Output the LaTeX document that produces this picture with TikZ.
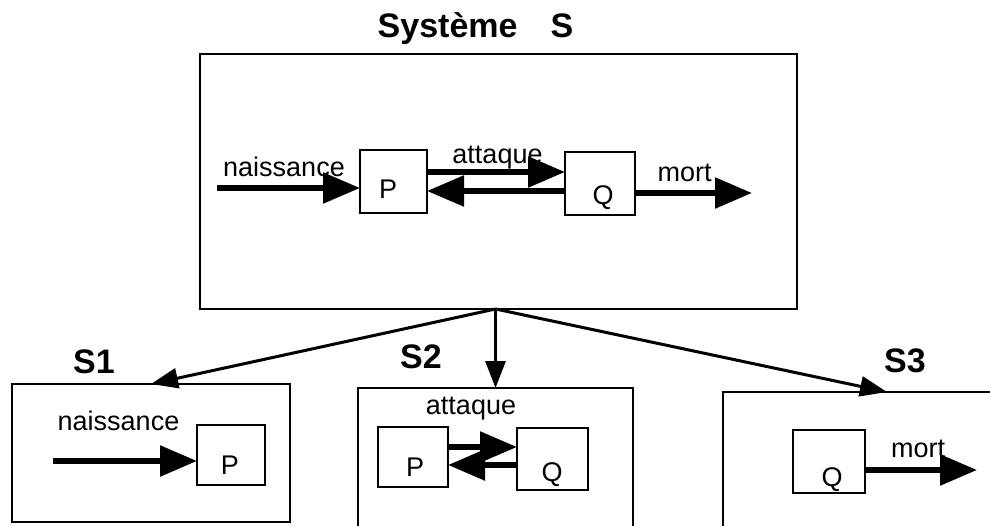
\documentclass[tikz,border=0pt]{standalone}
\usepackage{fontspec}
\setmainfont{Liberation Sans}
\usetikzlibrary{arrows.meta,calc}
\begin{document}
\begin{tikzpicture}[x=1pt,y=-1pt,
  box/.style={draw,line width=2.5pt,rectangle,inner sep=0pt,outer sep=0pt},
  sysbox/.style={box,line width=2.8pt},
  lbl/.style={font=\fontsize{27}{31}\selectfont,inner sep=0pt,anchor=base},
  ttl/.style={font=\fontsize{34}{40}\selectfont\bfseries,inner sep=0pt,anchor=base},
  flow/.style={line width=5.5pt,-{Triangle[length=37pt,width=30pt]}},
  link/.style={line width=3pt,-{Triangle[length=27pt,width=20pt]}},
]
\useasboundingbox (0,0) rectangle (990,526);
\clip (0,0) rectangle (990,526);

% ---- main system ----
\node[sysbox,minimum width=597pt,minimum height=255pt] (S) at (498.5,181.5) {};
\node[ttl] (ttlS) at (475.5,38) {Système\hspace{33pt}S};

\node[box,minimum width=67pt,minimum height=63pt] (P) at (393.5,181.5) {};
\node[lbl] (Plbl) at (388,199) {P};
\node[box,minimum width=70pt,minimum height=63pt] (Q) at (600,183.5) {};
\node[lbl] (Qlbl) at (603,205) {Q};

\node[lbl] (nais) at (284,177) {naissance};
\node[lbl] (att) at (497.5,164) {attaque};
\node[lbl] (mort) at (684.5,182) {mort};

\coordinate (nst) at (217,188);
\draw[flow] (nst) -- (nst -| P.west);
\draw[flow] ([yshift=9.5pt]P.east) -- ([yshift=9.5pt]P.east -| Q.west);
\draw[flow] ([yshift=-7.5pt]Q.west) -- ([yshift=-7.5pt]Q.west -| P.east);
\coordinate (mend) at (752,193);
\draw[flow] (Q.east |- mend) -- (mend);

% ---- subsystems ----
\node[box,minimum width=278pt,minimum height=138pt] (S1) at (151,453) {};
\node[ttl] (ttl1) at (94,373) {S1};
\node[box,minimum width=275pt,minimum height=172pt] (S2) at (495.5,474) {};
\node[ttl] (ttl2) at (421,368) {S2};
\node[box,minimum width=328pt,minimum height=168pt] (S3) at (887,476) {};
\node[ttl] (ttl3) at (905,372) {S3};

\coordinate (hub) at (S2.north |- S.south);
\draw[link] (hub) -- (S1.north);
\draw[link] (hub) -- (S2.north);
\draw[link] (hub) -- (S3.north);

% S1
\node[box,minimum width=68pt,minimum height=60pt] (P1) at (231,455) {};
\node[lbl] (P1lbl) at (230,474) {P};
\node[lbl] (nais1) at (118.5,430) {naissance};
\coordinate (n1) at (53,461);
\draw[flow] (n1) -- (n1 -| P1.west);

% S2
\node[box,minimum width=70pt,minimum height=60pt] (P2) at (413,457) {};
\node[lbl] (P2lbl) at (415,476) {P};
\node[box,minimum width=71pt,minimum height=62pt] (Q2) at (552.5,459) {};
\node[lbl] (Q2lbl) at (552,481) {Q};
\node[lbl] (att2) at (471,414) {attaque};
\draw[flow] ([yshift=10pt]P2.east) -- ([yshift=10pt]P2.east -| Q2.west);
\draw[flow] ([yshift=-6pt]Q2.west) -- ([yshift=-6pt]Q2.west -| P2.east);

% S3
\node[box,minimum width=72pt,minimum height=63pt] (Q3) at (829,461.5) {};
\node[lbl] (Q3lbl) at (832,486) {Q};
\node[lbl] (mort3) at (918,457) {mort};
\coordinate (m3) at (977,470);
\draw[flow] (Q3.east |- m3) -- (m3);
\end{tikzpicture}
\end{document}
